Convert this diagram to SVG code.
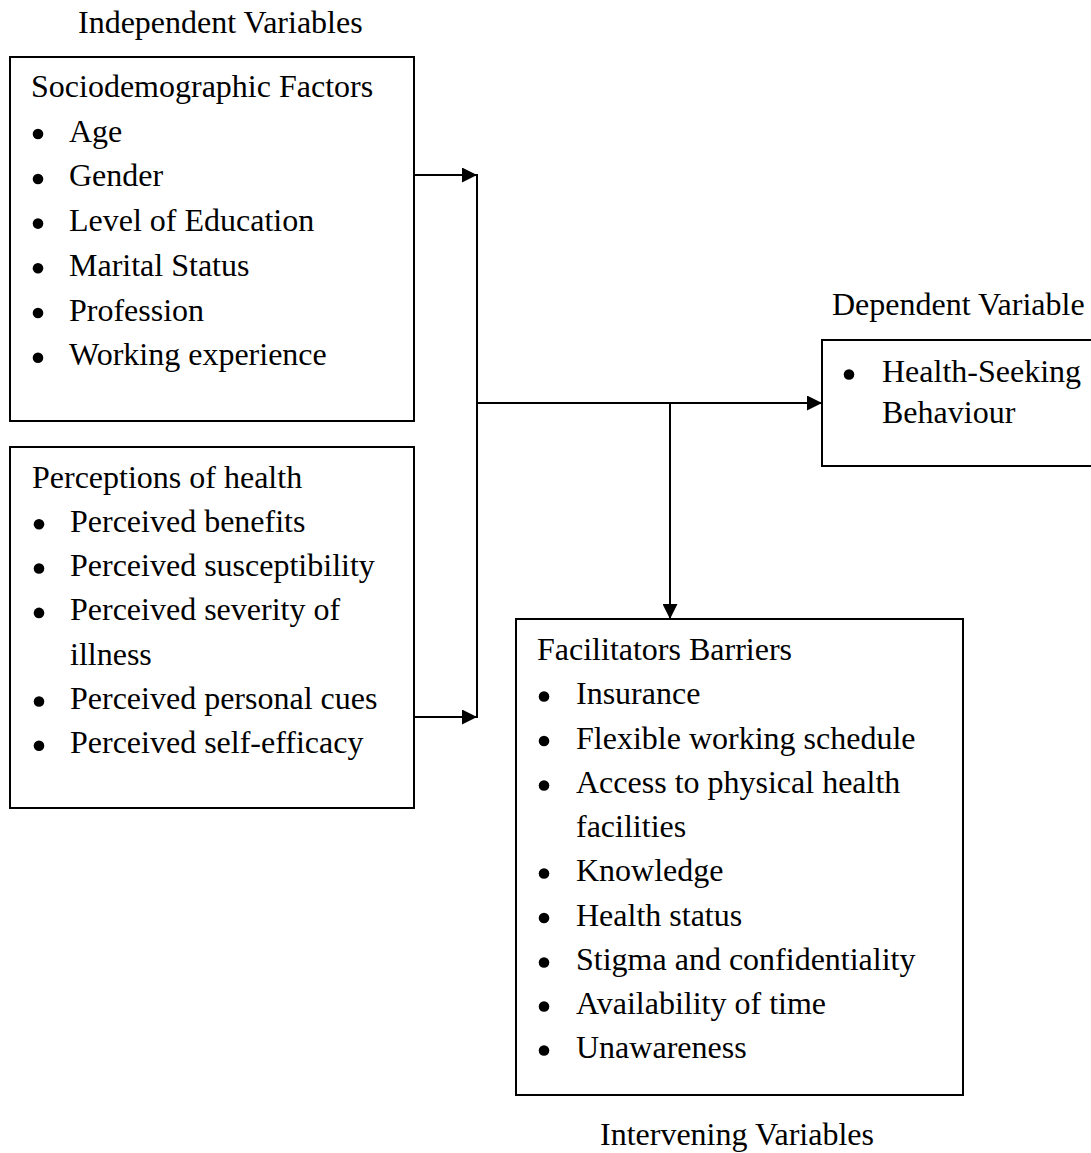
<svg xmlns="http://www.w3.org/2000/svg" width="1091" height="1153" viewBox="0 0 1091 1153">
<defs>
<style>
text{font-family:"Liberation Serif","Times New Roman",serif;font-size:32px;fill:#000}
.box{fill:#fff;stroke:#000;stroke-width:2}
.ln{fill:none;stroke:#000;stroke-width:2}
.bul{fill:#000}
</style>
<marker id="ah" viewBox="0 0 15 15" refX="15" refY="7.5" markerWidth="15" markerHeight="15" markerUnits="userSpaceOnUse" orient="auto">
<path d="M0,0 L15,7.5 L0,15 Z" fill="#000"/>
</marker>
</defs>
<rect width="1091" height="1153" fill="#fff"/>

<text x="78" y="33">Independent Variables</text>
<text x="832" y="315">Dependent Variable</text>
<text x="600" y="1145">Intervening Variables</text>

<g id="connectors">
<line class="ln" x1="414" y1="175" x2="477" y2="175" marker-end="url(#ah)"/>
<line class="ln" x1="414" y1="717" x2="477" y2="717" marker-end="url(#ah)"/>
<line class="ln" x1="477" y1="174" x2="477" y2="718"/>
<line class="ln" x1="477" y1="403" x2="822" y2="403" marker-end="url(#ah)"/>
<line class="ln" x1="670" y1="403" x2="670" y2="619" marker-end="url(#ah)"/>
</g>

<g id="sociodemographic">
<rect class="box" x="10" y="57" width="404" height="364"/>
<text x="31" y="97">Sociodemographic Factors</text>
<circle class="bul" cx="38" cy="134" r="5.3"/><text x="69" y="141.7">Age</text>
<circle class="bul" cx="38" cy="179" r="5.3"/><text x="69" y="186.4">Gender</text>
<circle class="bul" cx="38" cy="223.6" r="5.3"/><text x="69" y="231.1">Level of Education</text>
<circle class="bul" cx="38" cy="268.3" r="5.3"/><text x="69" y="275.8">Marital Status</text>
<circle class="bul" cx="38" cy="313" r="5.3"/><text x="69" y="320.5">Profession</text>
<circle class="bul" cx="38" cy="357.7" r="5.3"/><text x="69" y="365.2">Working experience</text>
</g>

<g id="perceptions">
<rect class="box" x="10" y="447" width="404" height="361"/>
<text x="32" y="487.5">Perceptions of health</text>
<circle class="bul" cx="39" cy="524.3" r="5.3"/><text x="70" y="531.8">Perceived benefits</text>
<circle class="bul" cx="39" cy="568.5" r="5.3"/><text x="70" y="576">Perceived susceptibility</text>
<circle class="bul" cx="39" cy="612.9" r="5.3"/><text x="70" y="620.4">Perceived severity of</text>
<text x="70" y="664.7">illness</text>
<circle class="bul" cx="39" cy="701.5" r="5.3"/><text x="70" y="709">Perceived personal cues</text>
<circle class="bul" cx="39" cy="745.8" r="5.3"/><text x="70" y="753.3">Perceived self-efficacy</text>
</g>

<g id="dependent">
<rect class="box" x="822" y="340" width="280" height="126"/>
<circle class="bul" cx="849" cy="374.5" r="5.3"/><text x="882" y="382">Health-Seeking</text>
<text x="882" y="423">Behaviour</text>
</g>

<g id="facilitators">
<rect class="box" x="516" y="619" width="447" height="476"/>
<text x="537" y="660">Facilitators Barriers</text>
<circle class="bul" cx="544" cy="696.5" r="5.3"/><text x="576" y="704">Insurance</text>
<circle class="bul" cx="544" cy="741" r="5.3"/><text x="576" y="748.5">Flexible working schedule</text>
<circle class="bul" cx="544" cy="785.5" r="5.3"/><text x="576" y="793">Access to physical health</text>
<text x="576" y="837">facilities</text>
<circle class="bul" cx="544" cy="873.5" r="5.3"/><text x="576" y="881">Knowledge</text>
<circle class="bul" cx="544" cy="918" r="5.3"/><text x="576" y="925.5">Health status</text>
<circle class="bul" cx="544" cy="962.5" r="5.3"/><text x="576" y="970">Stigma and confidentiality</text>
<circle class="bul" cx="544" cy="1006.5" r="5.3"/><text x="576" y="1014">Availability of time</text>
<circle class="bul" cx="544" cy="1050.5" r="5.3"/><text x="576" y="1058">Unawareness</text>
</g>
</svg>
